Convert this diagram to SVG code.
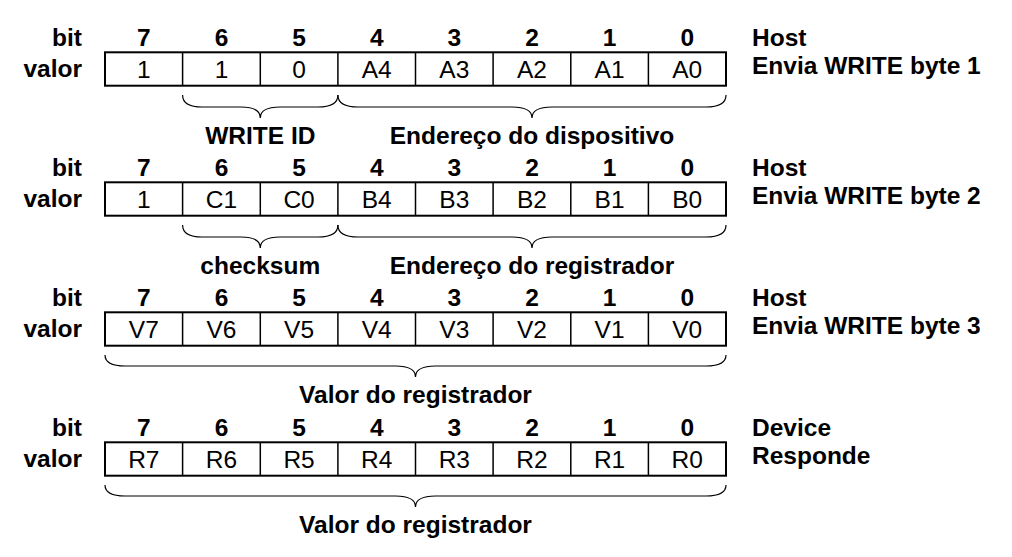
<svg xmlns="http://www.w3.org/2000/svg" width="1012" height="557" viewBox="0 0 1012 557">
<style>
text{font-family:"Liberation Sans",Arial,Helvetica,sans-serif;font-size:24.5px;fill:#000}
.b{font-weight:bold}
.c{text-anchor:middle}
.e{text-anchor:end}
.box{fill:#fff;stroke:#000;stroke-width:2}
.div{stroke:#000;stroke-width:1.5}
.brace{fill:none;stroke:#000;stroke-width:1.2}
</style>
<defs>
<g id="cells">
<rect class="box" x="105" y="0" width="621" height="33.4"/>
<path class="div" d="M182.6,0V33.4M260.3,0V33.4M337.9,0V33.4M415.5,0V33.4M493.1,0V33.4M570.8,0V33.4M648.4,0V33.4"/>
</g>
<g id="hdr">
<text class="b e" x="82" y="0">bit</text>
<text class="b c" x="143.8" y="0">7</text>
<text class="b c" x="221.5" y="0">6</text>
<text class="b c" x="299.1" y="0">5</text>
<text class="b c" x="376.7" y="0">4</text>
<text class="b c" x="454.3" y="0">3</text>
<text class="b c" x="532" y="0">2</text>
<text class="b c" x="609.6" y="0">1</text>
<text class="b c" x="687.2" y="0">0</text>
<text class="b e" x="82" y="31.5">valor</text>
</g>
</defs>

<g id="row1" transform="translate(0,0)">
<use href="#hdr" transform="translate(0,45.5)"/>
<use href="#cells" transform="translate(0,52.3)"/>
<g transform="translate(0,77.5)">
<text class="c" x="143.8">1</text><text class="c" x="221.5">1</text><text class="c" x="299.1">0</text><text class="c" x="376.7">A4</text><text class="c" x="454.3">A3</text><text class="c" x="532">A2</text><text class="c" x="609.6">A1</text><text class="c" x="687.2">A0</text>
</g>
<text class="b" x="752" y="45.7">Host</text>
<text class="b" x="752" y="74.3">Envia WRITE byte 1</text>
</g>

<g id="row2" transform="translate(0,130)">
<use href="#hdr" transform="translate(0,45.5)"/>
<use href="#cells" transform="translate(0,52.3)"/>
<g transform="translate(0,77.5)">
<text class="c" x="143.8">1</text><text class="c" x="221.5">C1</text><text class="c" x="299.1">C0</text><text class="c" x="376.7">B4</text><text class="c" x="454.3">B3</text><text class="c" x="532">B2</text><text class="c" x="609.6">B1</text><text class="c" x="687.2">B0</text>
</g>
<text class="b" x="752" y="45.7">Host</text>
<text class="b" x="752" y="74.3">Envia WRITE byte 2</text>
</g>

<g id="row3" transform="translate(0,260)">
<use href="#hdr" transform="translate(0,45.5)"/>
<use href="#cells" transform="translate(0,52.3)"/>
<g transform="translate(0,77.5)">
<text class="c" x="143.8">V7</text><text class="c" x="221.5">V6</text><text class="c" x="299.1">V5</text><text class="c" x="376.7">V4</text><text class="c" x="454.3">V3</text><text class="c" x="532">V2</text><text class="c" x="609.6">V1</text><text class="c" x="687.2">V0</text>
</g>
<text class="b" x="752" y="45.7">Host</text>
<text class="b" x="752" y="74.3">Envia WRITE byte 3</text>
</g>

<g id="row4" transform="translate(0,390)">
<use href="#hdr" transform="translate(0,45.5)"/>
<use href="#cells" transform="translate(0,52.3)"/>
<g transform="translate(0,77.5)">
<text class="c" x="143.8">R7</text><text class="c" x="221.5">R6</text><text class="c" x="299.1">R5</text><text class="c" x="376.7">R4</text><text class="c" x="454.3">R3</text><text class="c" x="532">R2</text><text class="c" x="609.6">R1</text><text class="c" x="687.2">R0</text>
</g>
<text class="b" x="752" y="45.7">Device</text>
<text class="b" x="752" y="74.3">Responde</text>
</g>

<g id="braces">
<path class="brace" d="M182.6,95 Q182.6,107 202,107 L241,107 Q260.3,107 260.3,118 Q260.3,107 280,107 L318,107 Q337.9,107 337.9,95"/>
<path class="brace" d="M337.9,95 Q337.9,107 358,107 L512,107 Q532,107 532,118 Q532,107 552,107 L706,107 Q726,107 726,95"/>
<path class="brace" d="M182.6,225 Q182.6,237 202,237 L241,237 Q260.3,237 260.3,248 Q260.3,237 280,237 L318,237 Q337.9,237 337.9,225"/>
<path class="brace" d="M337.9,225 Q337.9,237 358,237 L512,237 Q532,237 532,248 Q532,237 552,237 L706,237 Q726,237 726,225"/>
<path class="brace" d="M105,355 Q105,366 125,366 L395.5,366 Q415.5,366 415.5,377 Q415.5,366 435.5,366 L706,366 Q726,366 726,355"/>
<path class="brace" d="M105,485 Q105,496 125,496 L395.5,496 Q415.5,496 415.5,507 Q415.5,496 435.5,496 L706,496 Q726,496 726,485"/>
</g>

<g id="labels">
<text class="b c" x="260.3" y="144">WRITE ID</text>
<text class="b c" x="532" y="144">Endereço do dispositivo</text>
<text class="b c" x="260.3" y="274">checksum</text>
<text class="b c" x="532" y="274">Endereço do registrador</text>
<text class="b c" x="415.5" y="403">Valor do registrador</text>
<text class="b c" x="415.5" y="533">Valor do registrador</text>
</g>
</svg>
